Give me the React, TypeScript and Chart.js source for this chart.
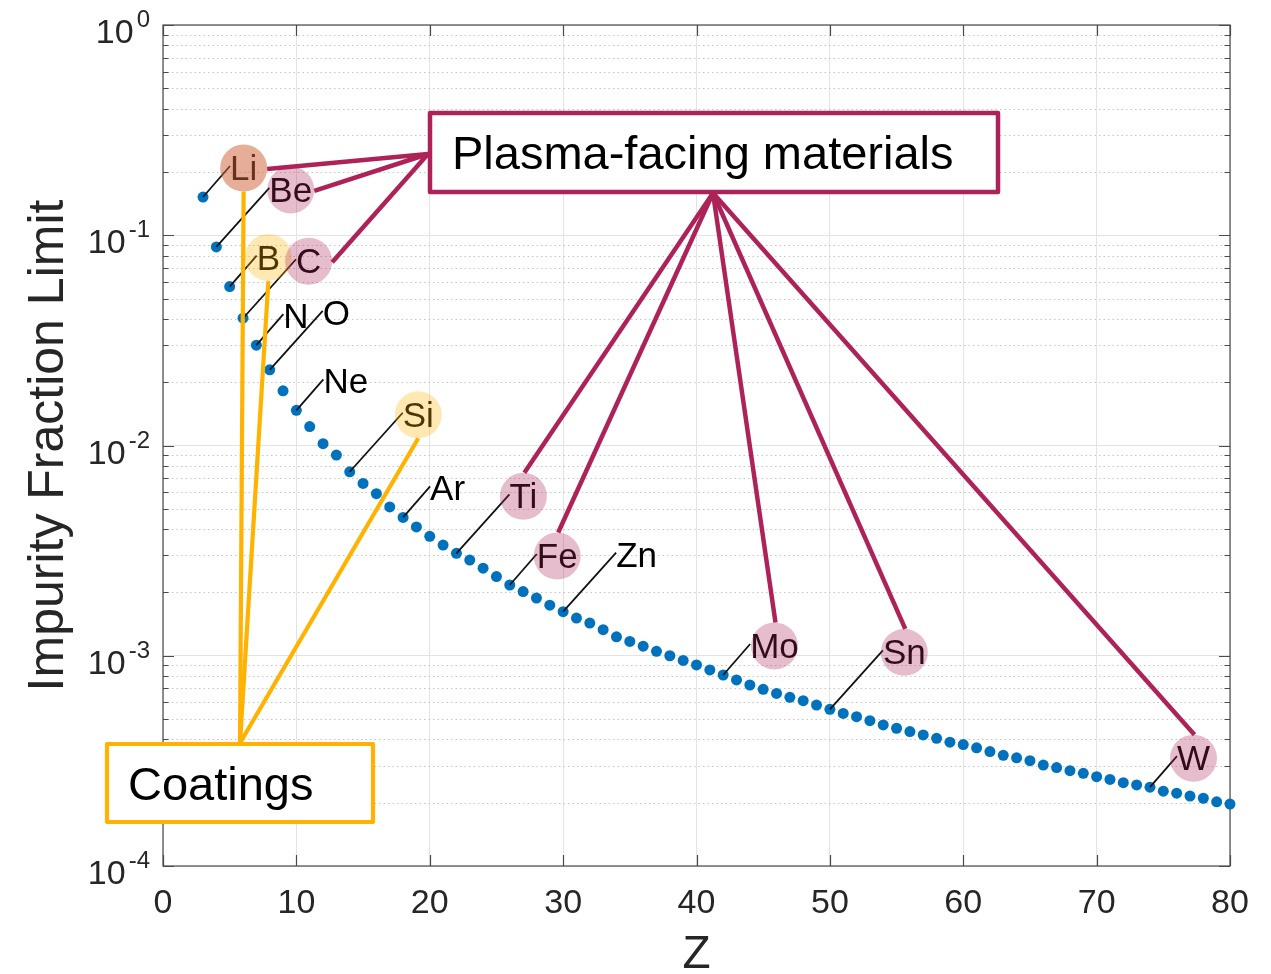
import React, { useEffect, useRef } from "react";
import { Chart, registerables } from "chart.js";

Chart.register(...registerables);

// ---------------- data ----------------
const atomicNumbers = [
  3, 4, 5, 6, 7, 8, 9, 10, 11, 12, 13, 14, 15, 16, 17, 18, 19, 20,
  21, 22, 23, 24, 25, 26, 27, 28, 29, 30, 31, 32, 33, 34, 35, 36, 37, 38, 39, 40,
  41, 42, 43, 44, 45, 46, 47, 48, 49, 50, 51, 52, 53, 54, 55, 56, 57, 58, 59, 60,
  61, 62, 63, 64, 65, 66, 67, 68, 69, 70, 71, 72, 73, 74, 75, 76, 77, 78, 79, 80,
];
const impurityLimit = [
  0.152, 0.088, 0.057, 0.0403, 0.03, 0.0229, 0.0182, 0.0147, 0.0123, 0.0102,
  0.009, 0.0075, 0.0066, 0.0059, 0.0051, 0.00455, 0.0041, 0.0037,
  0.00336, 0.00307, 0.00285, 0.00261, 0.00238, 0.00217, 0.00202, 0.00188, 0.00174, 0.00162,
  0.00151, 0.00143, 0.00133, 0.00123, 0.00117, 0.00111, 0.00105, 0.001, 0.00095, 0.000904,
  0.000856, 0.00081, 0.000767, 0.000726, 0.000692, 0.000662, 0.000634, 0.000611, 0.000583, 0.000556,
  0.000532, 0.000513, 0.000491, 0.000469, 0.000452, 0.000436, 0.00042, 0.000405, 0.000388, 0.000378,
  0.000365, 0.00035, 0.000336, 0.000327, 0.000317, 0.000302, 0.000294, 0.000284, 0.000276, 0.000266,
  0.000258, 0.000249, 0.000243, 0.000237, 0.000227, 0.000222, 0.000215, 0.00021, 0.000202, 0.000197,
];
const xTickValues = [0, 10, 20, 30, 40, 50, 60, 70, 80];
const yDecadeValues = [1e-4, 1e-3, 1e-2, 1e-1, 1];
const yDecadeExponents = ["-4", "-3", "-2", "-1", "0"];
const minorMultipliers = [2, 3, 4, 5, 6, 7, 8, 9];

const elementSymbols = ["Li", "Be", "B", "C", "N", "O", "Ne", "Si", "Ar", "Ti", "Fe", "Zn", "Mo", "Sn", "W"];
const elementZ = [3, 4, 5, 6, 7, 8, 10, 14, 18, 22, 26, 30, 42, 50, 74];
const plasmaFacingMaterials = ["Li", "Be", "C", "Ti", "Fe", "Mo", "Sn", "W"];
const coatingMaterials = ["Li", "B", "Si"];

const xAxisTitle = "Z";
const yAxisTitle = "Impurity Fraction Limit";
const plasmaBoxLabel = "Plasma-facing materials";
const coatingsBoxLabel = "Coatings";

// ---------------- styles ----------------
const FONT = '"Liberation Sans", Arial, Helvetica, sans-serif';
const BLUE = "#0072BD";
const CRIMSON = "#AD2359";
const ORANGE = "#FFB300";
const AXIS = "#262626";
const PINK_OVERLAY = "rgba(173,35,89,0.3)";
const YELLOW_OVERLAY = "rgba(255,179,0,0.3)";

const CALLOUT_SHORT = { dx: 27, dy: -17 };
const CALLOUT_LONG = { dx: 53, dy: -45 };
const CIRCLE_R = 23.5;

const PLASMA_BOX = { x0: 430, y0: 113, x1: 998, y1: 192, textX: 452, textY: 169 };
const COATINGS_BOX = { x0: 107, y0: 744, x1: 373, y1: 822, textX: 128, textY: 800 };
const PLASMA_LEFT_ANCHOR = { x: 428, y: 154 };
const PLASMA_BOTTOM_ANCHOR = { x: 713, y: 193 };
const COATINGS_ANCHOR = { x: 240, y: 743 };

const decorPlugin = {
  id: "decor",
  beforeDatasetsDraw(chart: any) {
    const { ctx, chartArea: a, scales } = chart;
    const xs = scales.x;
    const ys = scales.y;
    ctx.save();
    // minor dotted grid
    ctx.strokeStyle = "#c6c6c6";
    ctx.lineWidth = 1;
    ctx.setLineDash([1.5, 3]);
    for (let d = 0; d < yDecadeValues.length - 1; d++) {
      for (const m of minorMultipliers) {
        const py = Math.round(ys.getPixelForValue(yDecadeValues[d] * m)) + 0.5;
        ctx.beginPath();
        ctx.moveTo(a.left, py);
        ctx.lineTo(a.right, py);
        ctx.stroke();
      }
    }
    ctx.setLineDash([]);
    // frame
    ctx.strokeStyle = "#4a4a4a";
    ctx.lineWidth = 1.2;
    ctx.strokeRect(a.left, a.top, a.right - a.left, a.bottom - a.top);
    // tick marks
    ctx.beginPath();
    for (const v of xTickValues) {
      const px = Math.round(xs.getPixelForValue(v)) + 0.5;
      ctx.moveTo(px, a.bottom);
      ctx.lineTo(px, a.bottom - 11);
      ctx.moveTo(px, a.top);
      ctx.lineTo(px, a.top + 11);
    }
    for (let d = 0; d < yDecadeValues.length; d++) {
      const py = Math.round(ys.getPixelForValue(yDecadeValues[d])) + 0.5;
      ctx.moveTo(a.left, py);
      ctx.lineTo(a.left + 11, py);
      ctx.moveTo(a.right, py);
      ctx.lineTo(a.right - 11, py);
      if (d < yDecadeValues.length - 1) {
        for (const m of minorMultipliers) {
          const pm = Math.round(ys.getPixelForValue(yDecadeValues[d] * m)) + 0.5;
          ctx.moveTo(a.left, pm);
          ctx.lineTo(a.left + 5.5, pm);
          ctx.moveTo(a.right, pm);
          ctx.lineTo(a.right - 5.5, pm);
        }
      }
    }
    ctx.stroke();
    ctx.restore();
  },
  afterDatasetsDraw(chart: any) {
    const { ctx, chartArea: a, scales } = chart;
    const xs = scales.x;
    const ys = scales.y;
    ctx.save();

    // tick labels
    ctx.fillStyle = AXIS;
    ctx.textBaseline = "alphabetic";
    ctx.font = `34px ${FONT}`;
    ctx.textAlign = "center";
    for (const v of xTickValues) {
      ctx.fillText(String(v), xs.getPixelForValue(v), 913);
    }
    for (let d = 0; d < yDecadeValues.length; d++) {
      const py = ys.getPixelForValue(yDecadeValues[d]);
      ctx.font = `24px ${FONT}`;
      ctx.textAlign = "right";
      const ew = ctx.measureText(yDecadeExponents[d]).width;
      ctx.fillText(yDecadeExponents[d], 150, py + 2);
      ctx.font = `34px ${FONT}`;
      ctx.fillText("10", 150 - ew - 3, py + 18);
    }
    // axis titles
    ctx.fillStyle = AXIS;
    ctx.font = `46px ${FONT}`;
    ctx.textAlign = "center";
    ctx.fillText(xAxisTitle, (a.left + a.right) / 2, 968);
    ctx.save();
    ctx.translate(63, (a.top + a.bottom) / 2);
    ctx.rotate(-Math.PI / 2);
    ctx.font = `50px ${FONT}`;
    ctx.fillText(yAxisTitle, 0, 0);
    ctx.restore();

    // element callouts
    ctx.font = `35px ${FONT}`;
    const labels = elementSymbols.map((sym, i) => {
      const idx = atomicNumbers.indexOf(elementZ[i]);
      const px = xs.getPixelForValue(elementZ[i]);
      const py = ys.getPixelForValue(impurityLimit[idx]);
      const off = i % 2 === 0 ? CALLOUT_SHORT : CALLOUT_LONG;
      const tx = px + off.dx;
      const ty = py + off.dy;
      const w = ctx.measureText(sym).width;
      return { sym, px, py, tx, ty, cx: tx + w / 2, cy: ty - 12 };
    });
    ctx.strokeStyle = "#111";
    ctx.lineWidth = 1.8;
    for (const l of labels) {
      ctx.beginPath();
      ctx.moveTo(l.px, l.py);
      ctx.lineTo(l.tx, l.ty - 14);
      ctx.stroke();
    }
    ctx.fillStyle = "#000";
    ctx.textAlign = "left";
    for (const l of labels) ctx.fillText(l.sym, l.tx, l.ty);
    for (const l of labels) {
      if (coatingMaterials.includes(l.sym)) {
        ctx.fillStyle = YELLOW_OVERLAY;
        ctx.beginPath();
        ctx.arc(l.cx, l.cy, CIRCLE_R, 0, Math.PI * 2);
        ctx.fill();
      }
      if (plasmaFacingMaterials.includes(l.sym)) {
        ctx.fillStyle = PINK_OVERLAY;
        ctx.beginPath();
        ctx.arc(l.cx, l.cy, CIRCLE_R, 0, Math.PI * 2);
        ctx.fill();
      }
    }

    // connector lines
    ctx.lineCap = "butt";
    ctx.lineWidth = 4.5;
    ctx.strokeStyle = CRIMSON;
    for (const l of labels) {
      if (!plasmaFacingMaterials.includes(l.sym)) continue;
      ctx.beginPath();
      if (l.cx < PLASMA_BOX.x0) {
        ctx.moveTo(PLASMA_LEFT_ANCHOR.x, PLASMA_LEFT_ANCHOR.y);
        ctx.lineTo(l.cx + CIRCLE_R, l.cy + 1);
      } else {
        ctx.moveTo(PLASMA_BOTTOM_ANCHOR.x, PLASMA_BOTTOM_ANCHOR.y);
        ctx.lineTo(l.cx + 1, l.cy - CIRCLE_R);
      }
      ctx.stroke();
    }
    ctx.lineWidth = 4.2;
    ctx.strokeStyle = ORANGE;
    for (const l of labels) {
      if (!coatingMaterials.includes(l.sym)) continue;
      ctx.beginPath();
      ctx.moveTo(COATINGS_ANCHOR.x, COATINGS_ANCHOR.y);
      ctx.lineTo(l.cx, l.cy + CIRCLE_R);
      ctx.stroke();
    }

    // boxes
    const drawBox = (b: any, color: string, text: string, lw: number) => {
      ctx.fillStyle = "#fff";
      ctx.fillRect(b.x0, b.y0, b.x1 - b.x0, b.y1 - b.y0);
      ctx.strokeStyle = color;
      ctx.lineWidth = lw;
      ctx.lineJoin = "round";
      ctx.strokeRect(b.x0, b.y0, b.x1 - b.x0, b.y1 - b.y0);
      ctx.fillStyle = "#000";
      ctx.font = `47px ${FONT}`;
      ctx.textAlign = "left";
      ctx.fillText(text, b.textX, b.textY);
    };
    drawBox(PLASMA_BOX, CRIMSON, plasmaBoxLabel, 4.5);
    drawBox(COATINGS_BOX, ORANGE, coatingsBoxLabel, 4.2);

    ctx.restore();
  },
};

export default function App() {
  const canvasRef = useRef<HTMLCanvasElement | null>(null);

  useEffect(() => {
    const canvas = canvasRef.current;
    if (!canvas) return;
    const chart = new Chart(canvas, {
      type: "scatter",
      data: {
        datasets: [
          {
            data: atomicNumbers.map((z, i) => ({ x: z, y: impurityLimit[i] })),
            backgroundColor: BLUE,
            borderColor: BLUE,
            borderWidth: 0,
            pointStyle: "circle",
            pointRadius: 5.5,
            showLine: false,
            clip: false,
          } as any,
        ],
      },
      options: {
        responsive: false,
        animation: false,
        events: [],
        layout: { padding: { left: 163, top: 25, right: 41, bottom: 108 } },
        plugins: { legend: { display: false }, tooltip: { enabled: false } },
        scales: {
          x: {
            type: "linear",
            min: 0,
            max: 80,
            afterBuildTicks: (s: any) => {
              s.ticks = xTickValues.map((v) => ({ value: v }));
            },
            ticks: { display: false },
            grid: { color: "#e3e3e3", lineWidth: 1, drawTicks: false },
            border: { display: false },
          },
          y: {
            type: "logarithmic",
            min: 1e-4,
            max: 1,
            afterBuildTicks: (s: any) => {
              s.ticks = yDecadeValues.map((v) => ({ value: v, major: true }));
            },
            ticks: { display: false },
            grid: { color: "#e3e3e3", lineWidth: 1, drawTicks: false },
            border: { display: false },
          },
        },
      } as any,
      plugins: [decorPlugin],
    });
    return () => chart.destroy();
  }, []);

  return (
    <div style={{ position: "fixed", left: 0, top: 0, width: 1271, height: 974, background: "#fff" }}>
      <canvas ref={canvasRef} width={1271} height={974} style={{ display: "block" }} />
    </div>
  );
}
